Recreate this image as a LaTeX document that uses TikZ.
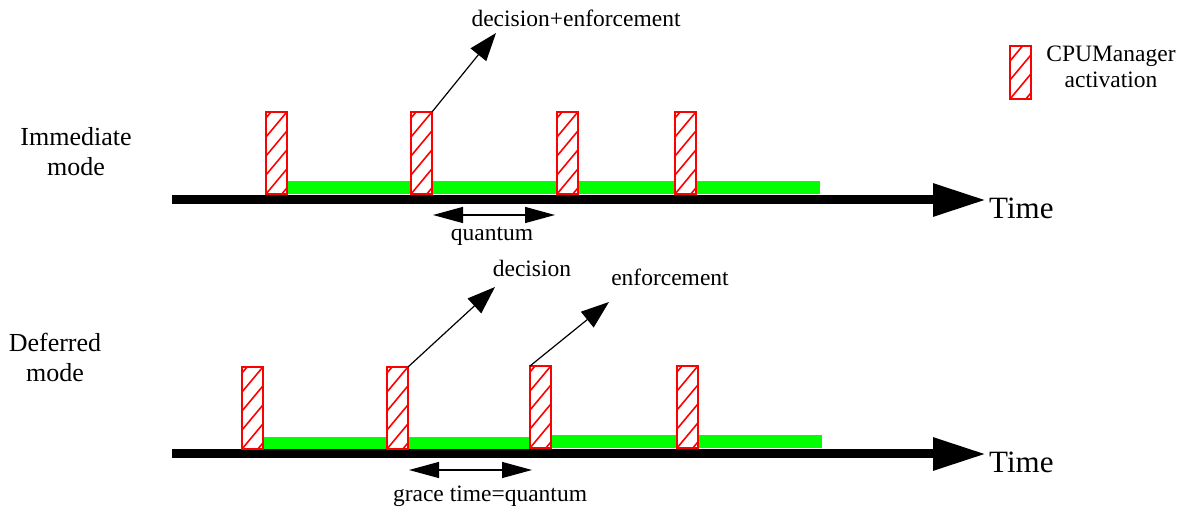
\documentclass[tikz,border=0pt]{standalone}
\usepackage{fontspec}
\setmainfont{Liberation Serif}
\usetikzlibrary{arrows.meta}
\begin{document}
\begin{tikzpicture}[x=1pt,y=-1pt,
  act/.style={draw=red, line width=2pt, fill=white, minimum width=21pt, minimum height=82pt,
    inner sep=0pt, outer sep=0pt, anchor=north west,
    path picture={\foreach \k in {-7,...,5}
      \draw[red, line width=1.6pt] ([yshift=\k*19pt]path picture bounding box.south west) -- ++(40pt,48pt);}},
  timeline/.style={line width=9pt, -{Triangle[length=53pt,width=31pt]}},
  run/.style={fill={rgb,255:red,0;green,255;blue,0}},
  span/.style={line width=1.3pt, {Triangle[length=30pt,width=16pt]}-{Triangle[length=30pt,width=16pt]}},
  call/.style={line width=1.2pt, -{Triangle[length=28pt,width=20pt]}},
  lbl/.style={font=\fontsize{23.5}{26}\selectfont, inner sep=0pt},
  side/.style={font=\fontsize{26}{30}\selectfont, align=center, inner sep=0pt},
  timelbl/.style={font=\fontsize{31}{34}\selectfont, inner sep=0pt, anchor=west}]
\useasboundingbox (0,0) rectangle (1184,510);

% ---------- Immediate mode ----------
\fill[run] (288,181) rectangle (820,194);
\coordinate (t1s) at (172,200);
\coordinate (t1e) at (986,200);
\draw[timeline] (t1s) -- (t1e);
\node[timelbl] (time1) at (989,208) {Time};

\node[act] (a1) at (266,112) {};
\node[act] (a2) at (411,112) {};
\node[act] (a3) at (557,112) {};
\node[act] (a4) at (675,112) {};

\node[side] (imm) at (76,152) {Immediate\\mode};

\coordinate (q1) at (433,215);
\coordinate (q2) at (555,215);
\draw[span] (q1) -- (q2);
\node[lbl] (quant) at (492,236) {quantum};

\coordinate (de) at (496,33);
\draw[call] (a2.north east) -- (de);
\node[lbl] (delbl) at (576,18) {decision+enforcement};

% ---------- Deferred mode ----------
\fill[run] (263,437) rectangle (387,449);
\fill[run] (407,437) rectangle (530,449);
\fill[run] (551,435) rectangle (822,448);
\coordinate (t2s) at (172,454);
\coordinate (t2e) at (986,454);
\draw[timeline] (t2s) -- (t2e);
\node[timelbl] (time2) at (989,462) {Time};

\node[act] (b1) at (242,367) {};
\node[act] (b2) at (387,367) {};
\node[act] (b3) at (530,366) {};
\node[act] (b4) at (677,366) {};

\node[side] (def) at (55,357) {Deferred\\mode};

\coordinate (g1) at (409,470);
\coordinate (g2) at (532,470);
\draw[span] (g1) -- (g2);
\node[lbl] (grace) at (490,496) {grace time=quantum};

\coordinate (dc) at (495,287);
\draw[call] (b2.north east) -- (dc);
\node[lbl] (declbl) at (532,268) {decision};

\coordinate (en) at (609,302);
\draw[call] (b3.north west) -- (en);
\node[lbl] (enlbl) at (670,277) {enforcement};

% ---------- Legend ----------
\node[act, minimum height=53pt] (leg) at (1010,46) {};
\node[lbl, align=center] (leglbl) at (1111,67) {CPUManager\\activation};
\end{tikzpicture}
\end{document}
